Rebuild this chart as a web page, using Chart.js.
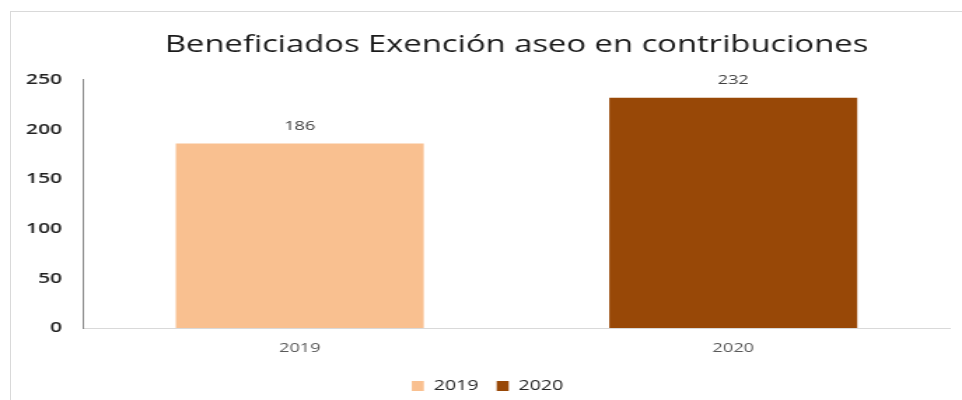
<!DOCTYPE html>
<html>
<head>
<meta charset="utf-8">
<script src="https://cdn.jsdelivr.net/npm/chart.js@4.4.1/dist/chart.umd.min.js"></script>
<style>
  body { margin: 0; background: #fff; }
  #wrap { position: relative; width: 962px; height: 400px; overflow: hidden; }
  #frame { position: absolute; left: 10px; top: 11px; width: 960px; height: 400px;
           border-left: 1px solid #d9d9d9; border-top: 1px solid #d9d9d9; }
  #chart { position: absolute; left: 0; top: 0; }
</style>
</head>
<body>
<div id="wrap">
  <div id="frame"></div>
  <!-- drawn narrow then stretched, the original picture is widened the same way -->
  <canvas id="chart" width="687" height="400" style="width:962px;height:400px"></canvas>
</div>
<script>
// data
let categories = ['2019', '2020'];
let values = [186, 232];
let barColors = ['#F9C090', '#984807'];
let yTicks = [0, 50, 100, 150, 200, 250];
let titleText = 'Beneficiados Exención aseo en contribuciones';

// one dataset per year so the legend lists both years
let datasets = categories.map((cat, i) => ({
    label: cat,
    data: categories.map((c, j) => j === i ? values[i] : null),
    backgroundColor: barColors[i],
    borderWidth: 0
}));

// value above each bar
let barLabels = {
    id: 'barLabels',
    afterDatasetsDraw(chart){
        let ctx = chart.ctx;
        ctx.save();
        ctx.font = '13px "Open Sans"';
        ctx.fillStyle = '#404040';
        ctx.textAlign = 'center';
        ctx.textBaseline = 'alphabetic';
        chart.data.datasets.forEach((ds, i) => {
            chart.getDatasetMeta(i).data.forEach((bar, j) => {
                if(ds.data[j] == null) return;
                ctx.fillText(ds.data[j], bar.x, bar.y - 13.5);
            });
        });
        ctx.restore();
    }
};

new Chart(document.getElementById('chart'), {
    type: 'bar',
    data: { labels: categories, datasets: datasets },
    options: {
        responsive: false,
        devicePixelRatio: 1,
        animation: false,
        layout: { padding: { left: 18, right: 8.6, top: 0, bottom: -3 } },
        datasets: { bar: { grouped: false, barPercentage: 1, categoryPercentage: 0.572 } },
        plugins: {
            tooltip: { enabled: false },
            title: {
                display: true,
                text: titleText,
                fullSize: false,
                color: '#1a1a1a',
                font: { family: 'Open Sans', size: 23.4, weight: 'normal', lineHeight: 1.2 },
                padding: { top: 31.5, bottom: 20.4 }
            },
            legend: {
                position: 'bottom',
                labels: {
                    boxWidth: 8.6,
                    boxHeight: 10,
                    padding: 13,
                    color: '#262626',
                    font: { family: 'Open Sans', size: 14 }
                }
            }
        },
        scales: {
            x: {
                grid: { display: false, drawTicks: false },
                border: { display: true, color: '#d9d9d9', width: 1 },
                ticks: { color: '#595959', padding: 12, font: { family: 'Open Sans', size: 13 } },
                afterFit(scale){ scale.height = 38; }
            },
            y: {
                min: yTicks[0],
                max: yTicks[yTicks.length - 1],
                grid: { display: false, drawTicks: false },
                border: { display: true, color: '#868686', width: 1 },
                ticks: {
                    stepSize: yTicks[1] - yTicks[0],
                    color: '#222',
                    padding: 15,
                    font: { family: 'Open Sans', size: 15, weight: '600' }
                },
                afterFit(scale){ scale.width = 41.3; }
            }
        }
    },
    plugins: [barLabels]
});
</script>
</body>
</html>
